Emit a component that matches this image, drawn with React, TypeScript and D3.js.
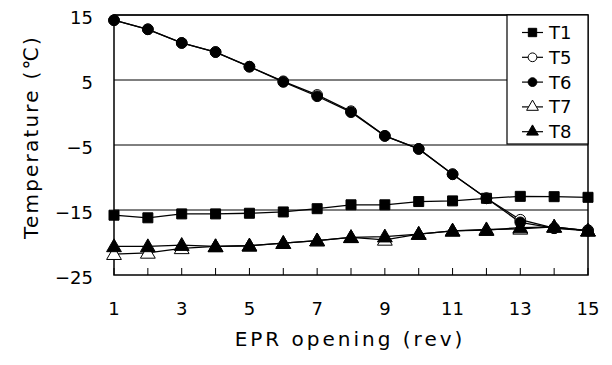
import React, { useEffect, useRef } from 'react';
import * as d3 from 'd3';

// EPR opening (rev)
const openings = [1, 2, 3, 4, 5, 6, 7, 8, 9, 10, 11, 12, 13, 14, 15];

const t1 = [-15.8, -16.2, -15.6, -15.6, -15.5, -15.3, -14.8, -14.2, -14.2, -13.7, -13.6, -13.2, -12.9, -12.95, -13.05];
const t5 = [14.2, 12.8, 10.7, 9.3, 7.05, 4.8, 2.7, 0.2, -3.6, -5.6, -9.5, -13.2, -16.5, -17.8, -18.1];
const t6 = [14.2, 12.8, 10.7, 9.3, 7.05, 4.7, 2.5, 0.05, -3.6, -5.6, -9.5, -13.2, -16.9, -17.8, -18.2];
const t7 = [-21.8, -21.6, -20.9, -20.6, -20.5, -20.1, -19.7, -19.2, -19.6, -18.7, -18.2, -18.0, -17.9, -17.6, -18.2];
const t8 = [-20.6, -20.6, -20.4, -20.6, -20.5, -20.1, -19.7, -19.2, -19.1, -18.7, -18.2, -18.1, -17.7, -17.6, -18.2];

const series = [
  { name: 'T1', values: t1, symbol: d3.symbolSquare, fill: '#000' },
  { name: 'T5', values: t5, symbol: d3.symbolCircle, fill: '#fff' },
  { name: 'T6', values: t6, symbol: d3.symbolCircle, fill: '#000' },
  { name: 'T7', values: t7, symbol: d3.symbolTriangle, fill: '#fff' },
  { name: 'T8', values: t8, symbol: d3.symbolTriangle, fill: '#000' },
];

const yTicks = [-25, -15, -5, 5, 15];
const xTickLabels = [1, 3, 5, 7, 9, 11, 13, 15];

const FONT = '"DejaVu Sans", sans-serif';

export default function App() {
  const svgRef = useRef<SVGSVGElement>(null);

  useEffect(() => {
    const width = 612;
    const height = 365;
    const margin = { top: 15, right: 24, bottom: 90, left: 114 };
    const innerW = width - margin.left - margin.right;
    const innerH = height - margin.top - margin.bottom;

    const svg = d3.select(svgRef.current);
    svg.selectAll('*').remove();
    svg.attr('width', width).attr('height', height);
    svg.append('rect').attr('width', width).attr('height', height).attr('fill', '#fff');

    const g = svg.append('g').attr('transform', `translate(${margin.left},${margin.top})`);

    const x = d3.scaleLinear().domain([1, 15]).range([0, innerW]);
    const y = d3.scaleLinear().domain([-25, 15]).range([innerH, 0]);

    // gridlines
    g.append('g').selectAll('line').data(yTicks.filter(d => d > -25)).join('line')
      .attr('x1', 0).attr('x2', innerW).attr('y1', d => y(d)).attr('y2', d => y(d))
      .attr('stroke', '#000').attr('stroke-width', 1);

    // plot frame
    g.append('rect').attr('x', 0).attr('y', 0).attr('width', innerW).attr('height', innerH)
      .attr('fill', 'none').attr('stroke', '#000').attr('stroke-width', 1.5);

    // x axis ticks (inside) and labels
    g.append('g').selectAll('line').data(openings).join('line')
      .attr('x1', d => x(d)).attr('x2', d => x(d)).attr('y1', innerH).attr('y2', innerH - 7)
      .attr('stroke', '#000').attr('stroke-width', 1);
    g.append('g').selectAll('text').data(xTickLabels).join('text')
      .attr('x', d => x(d)).attr('y', 315 - margin.top).attr('text-anchor', 'middle')
      .attr('font-family', FONT).attr('font-size', 18).attr('fill', '#000')
      .text(d => d);

    // y labels
    g.append('g').selectAll('text').data(yTicks).join('text')
      .attr('x', -21).attr('y', d => y(d) + 8.5).attr('text-anchor', 'end')
      .attr('font-family', FONT).attr('font-size', 18).attr('fill', '#000')
      .text(d => (d < 0 ? '\u2212' + Math.abs(d) : d));

    // lines + markers
    const line = d3.line<number>().x((d, i) => x(openings[i])).y(d => y(d));
    series.forEach(s => {
      g.append('path').datum(s.values).attr('d', line).attr('fill', 'none')
        .attr('stroke', '#000').attr('stroke-width', 1.3);
    });
    series.forEach(s => {
      const tri = s.symbol === d3.symbolTriangle;
      const size = tri ? 95 : s.symbol === d3.symbolSquare ? 100 : 90;
      g.append('g').selectAll('path').data(s.values).join('path')
        .attr('transform', (d, i) => `translate(${x(openings[i])},${y(d) + (tri ? 1 : 0)})`)
        .attr('d', d3.symbol(s.symbol, size)())
        .attr('fill', s.fill).attr('stroke', '#000').attr('stroke-width', 1);
    });

    // legend
    const lx = 507 - margin.left;
    const legend = g.append('g');
    legend.append('rect').attr('x', lx).attr('y', 0).attr('width', innerW - lx).attr('height', 129)
      .attr('fill', '#fff').attr('stroke', '#000').attr('stroke-width', 1.2);
    series.forEach((s, i) => {
      const ly = 17.5 + i * 24.8;
      legend.append('line').attr('x1', lx + 15).attr('x2', lx + 36).attr('y1', ly).attr('y2', ly)
        .attr('stroke', '#000').attr('stroke-width', 1.2);
      legend.append('path').attr('transform', `translate(${lx + 25.5},${ly})`)
        .attr('d', d3.symbol(s.symbol, s.symbol === d3.symbolSquare ? 70 : 60)())
        .attr('fill', s.fill).attr('stroke', '#000').attr('stroke-width', 1);
      legend.append('text').attr('x', lx + 42).attr('y', ly + 6.5)
        .attr('font-family', FONT).attr('font-size', 18).attr('fill', '#000').text(s.name);
    });

    // axis titles
    svg.append('text').attr('x', 350).attr('y', 346).attr('text-anchor', 'middle')
      .attr('font-family', FONT).attr('font-size', 20).attr('letter-spacing', 3).attr('fill', '#000')
      .text('EPR opening (rev)');
    svg.append('text').attr('transform', `translate(38,137) rotate(-90)`)
      .attr('text-anchor', 'middle').attr('font-family', FONT).attr('font-size', 20)
      .attr('letter-spacing', 2.2).attr('fill', '#000')
      .text('Temperature (\u2103)');
  }, []);

  return (
    <div style={{ position: 'absolute', left: 0, top: 0 }}>
      <svg ref={svgRef} style={{ display: 'block' }} />
    </div>
  );
}
